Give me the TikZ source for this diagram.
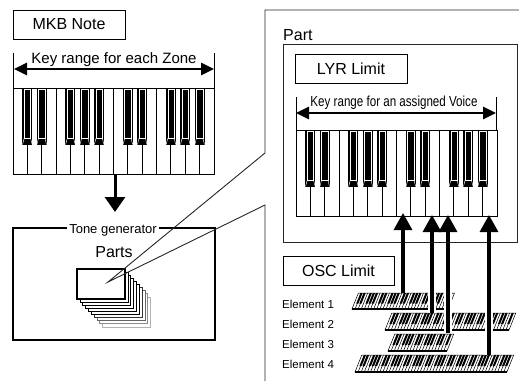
\documentclass[tikz,border=0pt]{standalone}
\usepackage{fontspec}
\setmainfont{Liberation Sans}
\newfontfamily\narrowfont[FakeStretch=0.8]{Liberation Sans}
\usetikzlibrary{arrows.meta}

% full-size keyboard: left x, top y (14 white keys)
\newcommand{\bigkeyboard}[2]{%
  \draw[line width=1pt, fill=white] (#1,#2) rectangle ++(201,86);
  \foreach \k in {1,...,13}
    \draw[line width=0.9pt] ({#1+\k*14.357},#2) -- ++(0,86);
  \foreach \k in {1,2,4,5,6,8,9,11,12,13} {
    \fill[black] ({#1+\k*14.357-5},#2) rectangle ++(10,57);
    \draw[white, line width=0.45pt] ({#1+\k*14.357-3.2},{#2+0.8}) rectangle ++(6.4,49.5);
    \draw[white, line width=0.45pt] ({#1+\k*14.357-3.2},{#2+50.3}) -- ++(-1.6,6.2)
          ({#1+\k*14.357+3.2},{#2+50.3}) -- ++(1.6,6.2);
  }
}

% slanted element keyboard: left x, bottom y, white keys, height
\newcommand{\elemkeyboard}[4]{%
  \begin{scope}[shift={(#1,#2)}, xslant=0.4]
    \draw[line width=0.5pt, fill=white] (0,0) rectangle ({#3*3.1},-#4);
    \pgfmathtruncatemacro\nk{#3-1}
    \foreach \k in {1,...,\nk} {
      \draw[line width=0.5pt] ({\k*3.1},0) -- ++(0,-#4);
      \pgfmathtruncatemacro\m{mod(\k,7)}
      \ifcase\m\or
        \fill ({\k*3.1-1.1},-#4) rectangle ++(2.2,{0.66*#4});\or
        \fill ({\k*3.1-1.1},-#4) rectangle ++(2.2,{0.66*#4});\or\or
        \fill ({\k*3.1-1.1},-#4) rectangle ++(2.2,{0.66*#4});\or
        \fill ({\k*3.1-1.1},-#4) rectangle ++(2.2,{0.66*#4});\or
        \fill ({\k*3.1-1.1},-#4) rectangle ++(2.2,{0.66*#4});\fi
    }
    \draw[line width=1.3pt] (0,0) -- ({#3*3.1},0);
  \end{scope}}

\begin{document}
\begin{tikzpicture}[
  x=1pt, y=-1pt,
  labelbox/.style={draw, line width=0.8pt, minimum width=112pt, minimum height=29pt,
                   inner sep=0pt, font=\fontsize{16}{18}\selectfont},
  rangetext/.style={anchor=base, inner sep=0pt},
  rangearrow/.style={line width=2.7pt,
                     {Triangle[length=13pt,width=12pt]}-{Triangle[length=13pt,width=12pt]}},
  downarrow/.style={line width=3pt, -{Triangle[length=15pt,width=20pt]}},
  uparrow/.style={line width=3.2pt, -{Triangle[length=17pt,width=18pt]}},
  halo/.style={white, line width=8pt},
  elemtext/.style={anchor=base west, inner sep=0pt, font=\fontsize{11.5}{13}\selectfont},
  frame/.style={black!85, line width=0.9pt}
]
\useasboundingbox (0,0) rectangle (519,381);

% left side: MKB note and tone generator
\node[labelbox] (mkb) at (69,24.5) {MKB Note};
\draw[line width=1pt] (13,53) -- (13,88) (214,53) -- (214,88);
\node[rangetext, font=\fontsize{15}{17}\selectfont] (zonetxt) at (114,63) {Key range for each Zone};
\coordinate (zl) at (14,69);
\coordinate (zr) at (214,69);
\draw[rangearrow] (zl) -- (zr);
\bigkeyboard{13}{88}
\coordinate (kb1) at (115,174);
\coordinate (tg) at (115,212);
\draw[downarrow] (kb1) -- (tg);

\draw[line width=1.1pt] (13,228) rectangle (215,340);
\node[anchor=base, fill=white, inner xsep=2pt, inner ysep=1pt, font=\fontsize{13}{15}\selectfont]
  (tgtxt) at (113,233.5) {Tone generator};
\node[anchor=base, inner sep=0pt, font=\fontsize{16}{18}\selectfont] (parts) at (114,257) {Parts};

% stack of parts
\foreach \i/\c in {9/black!30, 8/black!45, 7/black!60, 6/black!80, 5/black,
                   4/black, 3/black, 2/black, 1/black}
  \draw[\c, fill=white, line width=0.7pt] ({77+2.85*\i},{269+3.1*\i}) rectangle ++(48,30);
\node[draw, fill=white, line width=1.3pt, minimum width=48pt, minimum height=30pt,
      inner sep=0pt] (front) at (101,284) {};
\coordinate (tip) at (108,282);

% callout frame
\draw[frame] (519,10) -- (265,10) -- (265,153) -- (tip) -- (265,205) -- (265,381);

% right side: part
\node[anchor=base west, inner sep=0pt, font=\fontsize{16}{18}\selectfont] (parttxt) at (283,40.5) {Part};
\draw[frame] (283,44) rectangle (517,242);
\node[labelbox] (lyr) at (351,68.5) {LYR Limit};
\draw[line width=1pt] (296,97) -- (296,130) (496,97) -- (496,130);
\node[rangetext, font=\narrowfont\fontsize{14.5}{17}\selectfont] (voicetxt) at (394,106) {Key range for an assigned Voice};
\coordinate (vl) at (296,113);
\coordinate (vr) at (496,113);
\draw[rangearrow] (vl) -- (vr);
\bigkeyboard{296}{130}

% OSC limit and elements
\node[labelbox, minimum width=111pt] (osc) at (338.5,270.5) {OSC Limit};
\node[elemtext] (el1) at (282,308.3) {Element 1};
\node[elemtext] (el2) at (282,328.3) {Element 2};
\node[elemtext] (el3) at (282,348.3) {Element 3};
\node[elemtext] (el4) at (282,368.3) {Element 4};
\elemkeyboard{352}{309}{31}{16}
\elemkeyboard{385}{330}{40}{17}
\elemkeyboard{388}{351}{19}{17}
\elemkeyboard{355}{372}{49}{17}

\coordinate (e1) at (403,293);
\coordinate (e2) at (432,313);
\coordinate (e3) at (448,333);
\coordinate (e4) at (489,355);
\coordinate (t1) at (403,213);
\coordinate (t2) at (432,215);
\coordinate (t3) at (448,215);
\coordinate (t4) at (489,215);
\coordinate (halotop) at (0,289);
\draw[halo] (e2) -- (e2 |- halotop);
\draw[halo] (e3) -- (e3 |- halotop);
\draw[halo] (e4) -- (e4 |- halotop);
\draw[uparrow] (e1) -- (t1);
\draw[uparrow] (e2) -- (t2);
\draw[uparrow] (e3) -- (t3);
\draw[uparrow] (e4) -- (t4);
\end{tikzpicture}
\end{document}
